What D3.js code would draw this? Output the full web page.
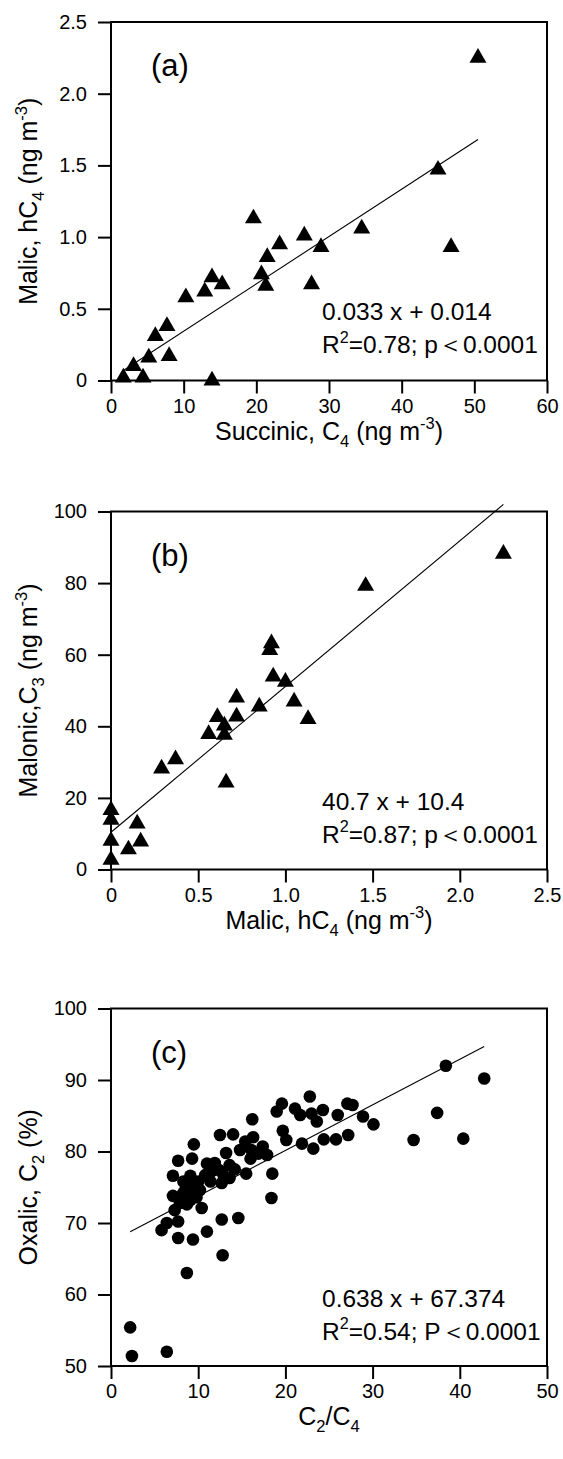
<!DOCTYPE html>
<html><head><meta charset="utf-8">
<script src="https://cdn.jsdelivr.net/npm/d3@7"></script>
<style>
body{margin:0;background:#fff}
text{font-family:"Liberation Sans",Arial,Helvetica,sans-serif;fill:#000}
</style>
</head><body>
<svg id="chart" width="563" height="1459"></svg>
<script>
// ---------- DATA ----------
// Panel (a): Succinic (C4) vs Malic (hC4)
const succinicA = [1.7, 3.1, 4.4, 5.2, 6.1, 7.7, 8.0, 10.3, 12.9, 13.9, 15.3, 13.9, 19.6, 20.7, 21.3, 21.5, 23.2, 26.6, 27.6, 28.9, 34.5, 45.0, 46.8, 50.5];
const malicA    = [0.02, 0.10, 0.02, 0.16, 0.31, 0.38, 0.17, 0.58, 0.62, 0.72, 0.67, 0.00, 1.13, 0.74, 0.66, 0.86, 0.95, 1.01, 0.67, 0.93, 1.06, 1.47, 0.93, 2.25];
// Panel (b): Malic (hC4) vs Malonic (C3)
const malicB   = [0, 0, 0, 0, 0.10, 0.15, 0.17, 0.29, 0.37, 0.56, 0.61, 0.65, 0.65, 0.66, 0.72, 0.72, 0.85, 0.91, 0.92, 0.93, 1.00, 1.05, 1.13, 1.46, 2.25];
const malonicB = [16.6, 13.9, 8.0, 2.7, 5.6, 12.8, 7.8, 28.2, 30.8, 37.8, 42.6, 40.2, 37.6, 24.3, 42.7, 48.0, 45.5, 61.3, 63.2, 53.9, 52.4, 46.9, 42.0, 79.2, 88.2];
// Panel (c): C2/C4 ratio vs Oxalic (C2, %)
const ratioC  = [38.4, 42.8, 37.4, 34.7, 40.4, 30.1, 28.9, 27.1, 27.7, 26.0, 27.2, 25.8, 24.4, 23.2, 21.9, 22.8, 24.3, 23.6, 23.0, 21.1, 21.7, 19.6, 19.0, 19.7, 20.1, 16.2, 12.5, 14.0, 9.5, 15.4, 16.3, 17.4, 14.8, 16.1, 16.9, 17.9, 16.0, 13.2, 7.7, 9.3, 11.0, 13.6, 12.4, 11.5, 10.8, 12.9, 15.5, 18.5, 7.1, 9.1, 8.3, 10.0, 11.4, 12.7, 13.6, 8.9, 9.6, 8.3, 7.1, 9.1, 18.4, 7.3, 10.4, 7.9, 12.7, 14.6, 7.7, 6.4, 5.8, 11.0, 7.7, 9.4, 12.8, 8.7, 2.2, 2.4, 6.4, 8.6, 9.8, 8.7, 10.2, 11.9, 14.2];
const oxalicC = [92.0, 90.2, 85.4, 81.6, 81.8, 83.8, 84.9, 86.7, 86.5, 85.1, 82.3, 81.7, 81.7, 80.4, 81.1, 87.7, 85.8, 84.2, 85.3, 86.0, 85.1, 86.7, 85.6, 82.9, 81.6, 84.5, 82.3, 82.4, 81.0, 81.4, 82.0, 80.7, 80.2, 80.2, 79.7, 79.5, 79.0, 79.8, 78.7, 79.0, 78.3, 78.1, 77.4, 77.2, 76.7, 76.7, 76.9, 76.9, 76.6, 76.6, 75.8, 75.8, 75.8, 75.6, 76.3, 75.1, 74.4, 74.2, 73.8, 73.2, 73.5, 71.8, 72.1, 72.8, 70.5, 70.7, 70.2, 70.0, 69.0, 68.8, 67.9, 67.7, 65.5, 63.0, 55.4, 51.4, 52.0, 75.0, 73.6, 72.6, 74.6, 78.4, 77.5];

// Linear fits (slope, intercept) as printed on the chart
const fitSlopes     = [0.033, 40.7, 0.638];
const fitIntercepts = [0.014, 10.4, 67.374];

// Tick values
const xTicksA = [0, 10, 20, 30, 40, 50, 60];
const yTicksA = [0, 0.5, 1.0, 1.5, 2.0, 2.5];
const xTicksB = [0, 0.5, 1.0, 1.5, 2.0, 2.5];
const yTicksB = [0, 20, 40, 60, 80, 100];
const xTicksC = [0, 10, 20, 30, 40, 50];
const yTicksC = [50, 60, 70, 80, 90, 100];

// Labels
const panelLabels = ["(a)", "(b)", "(c)"];
const eqTexts = ["0.033 x + 0.014", "40.7 x + 10.4", "0.638 x + 67.374"];
const r2Texts = [["R", "2", "=0.78; p＜0.0001"], ["R", "2", "=0.87; p＜0.0001"], ["R", "2", "=0.54; P＜0.0001"]];
// rich-text parts: [text, mode] where mode: 0 normal, 1 subscript, 2 superscript
const xTitles = [
  [["Succinic, C",0],["4",1],[" (ng m",0],["-3",2],[")",0]],
  [["Malic, hC",0],["4",1],[" (ng m",0],["-3",2],[")",0]],
  [["C",0],["2",1],["/C",0],["4",1]]
];
const yTitles = [
  [["Malic, hC",0],["4",1],[" (ng m",0],["-3",2],[")",0]],
  [["Malonic,C",0],["3",1],[" (ng m",0],["-3",2],[")",0]],
  [["Oxalic, C",0],["2",1],[" (%)",0]]
];

// ---------- LAYOUT ----------
const L = 111, R = 547;
const panels = [
  {top: 22,     bottom: 380.5, xd: [0, 60],  yd: [0, 2.5],  xt: xTicksA, yt: yTicksA, xs: succinicA, ys: malicA,    mark: "tri"},
  {top: 511.5,  bottom: 869.5, xd: [0, 2.5], yd: [0, 100],  xt: xTicksB, yt: yTicksB, xs: malicB,    ys: malonicB,  mark: "tri"},
  {top: 1008.5, bottom: 1366,  xd: [0, 50],  yd: [50, 100], xt: xTicksC, yt: yTicksC, xs: ratioC,    ys: oxalicC,   mark: "dot"}
];

const svg = d3.select("#chart");
const TICK_FS = 20, TITLE_FS = 25, ANN_FS = 24.5, LAB_FS = 31;

function rich(textSel, parts, fs) {
  let shift = 0;
  parts.forEach(([t, mode]) => {
    const target = mode === 1 ? fs * 0.28 : mode === 2 ? -fs * 0.42 : 0;
    textSel.append("tspan")
      .attr("dy", target - shift)
      .attr("font-size", mode ? fs * 0.66 : fs)
      .text(t);
    shift = target;
  });
}

function fmt(v) { return v === 0 ? "0" : (Number.isInteger(v) && v >= 10 ? String(v) : d3.format(".1f")(v)); }

panels.forEach((p, i) => {
  const x = d3.scaleLinear().domain(p.xd).range([L, R]);
  const y = d3.scaleLinear().domain(p.yd).range([p.bottom, p.top]);
  const g = svg.append("g");

  // points
  const pts = p.xs.map((v, k) => [v, p.ys[k]]);
  if (p.mark === "tri") {
    const sym = d3.symbol().type(d3.symbolTriangle).size(125);
    g.append("g").selectAll("path").data(pts).join("path")
      .attr("d", sym)
      .attr("transform", d => `translate(${x(d[0])},${y(d[1])})`)
      .attr("fill", "#000");
  } else {
    g.append("g").selectAll("circle").data(pts).join("circle")
      .attr("cx", d => x(d[0])).attr("cy", d => y(d[1]))
      .attr("r", 6.3).attr("fill", "#000");
  }

  // regression line
  const ext = d3.extent(p.xs);
  const f = v => fitSlopes[i] * v + fitIntercepts[i];
  g.append("path")
    .attr("d", d3.line()([[x(ext[0]), y(f(ext[0]))], [x(ext[1]), y(f(ext[1]))]]))
    .attr("stroke", "#000").attr("stroke-width", 1.1).attr("fill", "none");

  // frame
  g.append("rect").attr("x", L).attr("y", p.top).attr("width", R - L).attr("height", p.bottom - p.top)
    .attr("fill", "none").attr("stroke", "#000").attr("stroke-width", 2);

  // axes
  const xAxis = d3.axisBottom(x).tickValues(p.xt).tickSize(13).tickPadding(5).tickFormat(fmt);
  const yAxis = d3.axisLeft(y).tickValues(p.yt).tickSize(13).tickPadding(11).tickFormat(fmt);
  const gx = g.append("g").attr("transform", `translate(0,${p.bottom})`).call(xAxis);
  const gy = g.append("g").attr("transform", `translate(${L},0)`).call(yAxis);
  [gx, gy].forEach(a => {
    a.select(".domain").remove();
    a.selectAll(".tick line").attr("stroke", "#000").attr("stroke-width", 2);
    a.selectAll(".tick text").attr("font-size", TICK_FS).attr("fill", "#000")
      .attr("font-family", '"Liberation Sans",Arial,sans-serif');
  });

  // panel label
  g.append("text").attr("x", 151).attr("y", p.top + 54).attr("font-size", LAB_FS).text(panelLabels[i]);

  // equation annotation
  g.append("text").attr("x", 322).attr("y", p.top + 298).attr("font-size", ANN_FS).text(eqTexts[i]);
  const r2 = g.append("text").attr("x", 322).attr("y", p.top + 331).attr("font-size", ANN_FS);
  rich(r2, [[r2Texts[i][0], 0], [r2Texts[i][1], 2], [r2Texts[i][2], 0]], ANN_FS);

  // axis titles
  const xt = g.append("text").attr("x", (L + R) / 2).attr("y", p.bottom + 59).attr("text-anchor", "middle").attr("font-size", TITLE_FS);
  rich(xt, xTitles[i], TITLE_FS);
  const yt = g.append("text").attr("transform", `translate(37,${(p.top + p.bottom) / 2}) rotate(-90)`)
    .attr("text-anchor", "middle").attr("font-size", TITLE_FS);
  rich(yt, yTitles[i], TITLE_FS);
});
</script>
</body></html>
